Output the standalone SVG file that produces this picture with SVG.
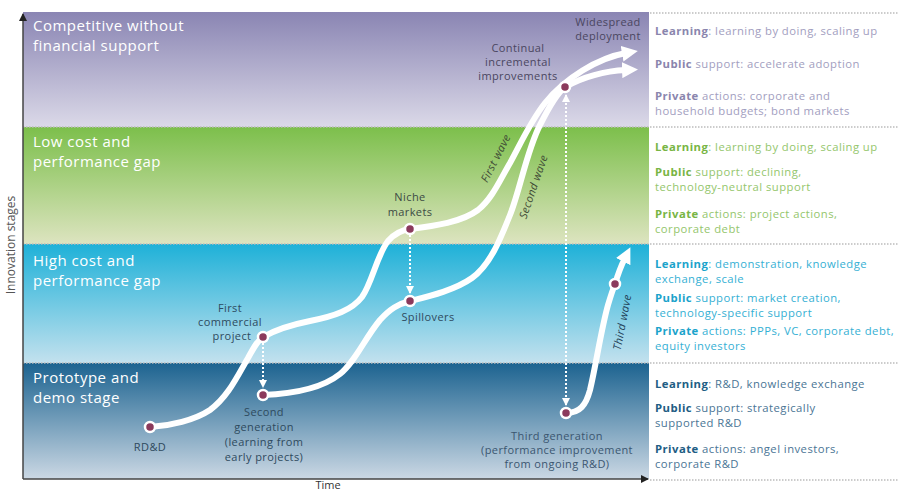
<svg xmlns="http://www.w3.org/2000/svg" width="899" height="492" viewBox="0 0 899 492">
<defs>
  <linearGradient id="gPurple" x1="0" y1="0" x2="0" y2="1">
    <stop offset="0" stop-color="#8a85b3"/>
    <stop offset="1" stop-color="#dbd9e8"/>
  </linearGradient>
  <linearGradient id="gGreen" x1="0" y1="0" x2="0" y2="1">
    <stop offset="0" stop-color="#7cbf4b"/>
    <stop offset="1" stop-color="#dde4c0"/>
  </linearGradient>
  <linearGradient id="gBlue" x1="0" y1="0" x2="0" y2="1">
    <stop offset="0" stop-color="#1eb1d8"/>
    <stop offset="1" stop-color="#c3e1ee"/>
  </linearGradient>
  <linearGradient id="gDark" x1="0" y1="0" x2="0" y2="1">
    <stop offset="0" stop-color="#1c6390"/>
    <stop offset="1" stop-color="#cbd8e4"/>
  </linearGradient>
  <marker id="bigArrow" viewBox="0 0 16 16" refX="4" refY="8" markerWidth="16" markerHeight="16" markerUnits="userSpaceOnUse" orient="auto">
    <path d="M0,0 L16,8 L0,16 z" fill="#fff"/>
  </marker>
  <marker id="smallArrow" viewBox="0 0 8 8" refX="7" refY="4" markerWidth="8" markerHeight="8" markerUnits="userSpaceOnUse" orient="auto-start-reverse">
    <path d="M0,0 L8,4 L0,8 z" fill="#fff"/>
  </marker>
  <marker id="axisArrow" viewBox="0 0 8 8" refX="7" refY="4" markerWidth="8" markerHeight="8" markerUnits="userSpaceOnUse" orient="auto">
    <path d="M0,0 L8,4 L0,8 z" fill="#222"/>
  </marker>
</defs>
<style>
  text { font-family: "Open Sans", "Noto Sans", "Liberation Sans", sans-serif; }
  .band { font-size: 15px; letter-spacing: 0.5px; fill: #ffffff; }
  .lbl { font-size: 11px; letter-spacing: 0.4px; text-anchor: middle; }
  .rp { font-size: 11.3px; letter-spacing: 0.45px; }
  .b { font-weight: bold; }
  .wave { fill: none; stroke: #ffffff; stroke-width: 6; stroke-linecap: round; stroke-linejoin: round; }
  .dot { fill: #8b3a5c; stroke: #ffffff; stroke-width: 2.5; }
  .dash { fill: none; stroke: #ffffff; stroke-width: 2; stroke-dasharray: 2 2; }
  .sep { fill: none; stroke: #bcbcbc; stroke-width: 1.5; stroke-dasharray: 1.5 1.5; }
  .axis { fill: none; stroke: #444; stroke-width: 1.5; }
  .italic { font-style: italic; }
</style>

<!-- bands -->
<g id="bands">
  <rect x="23" y="12" width="626" height="115" fill="url(#gPurple)"/>
  <rect x="23" y="127" width="626" height="117" fill="url(#gGreen)"/>
  <rect x="23" y="244" width="626" height="119" fill="url(#gBlue)"/>
  <rect x="23" y="363" width="626" height="116" fill="url(#gDark)"/>
  <line class="sep" x1="650" y1="13" x2="899" y2="13"/>
  <line class="sep" x1="23" y1="127" x2="899" y2="127"/>
  <line class="sep" x1="23" y1="244" x2="899" y2="244"/>
  <line class="sep" x1="23" y1="363" x2="899" y2="363"/>
  <line class="sep" x1="650" y1="480" x2="899" y2="480"/>
  <text class="band" x="33" y="31">Competitive without</text>
  <text class="band" x="33" y="51">financial support</text>
  <text class="band" x="33" y="147">Low cost and</text>
  <text class="band" x="33" y="167">performance gap</text>
  <text class="band" x="33" y="266">High cost and</text>
  <text class="band" x="33" y="286">performance gap</text>
  <text class="band" x="33" y="383">Prototype and</text>
  <text class="band" x="33" y="403">demo stage</text>
</g>

<!-- axes -->
<g id="axes">
  <line class="axis" x1="23" y1="479" x2="23" y2="14" marker-end="url(#axisArrow)"/>
  <line class="axis" x1="23" y1="479" x2="648" y2="479" marker-end="url(#axisArrow)"/>
  <text x="15" y="245" font-size="12" fill="#555" text-anchor="middle" transform="rotate(-90 15 245)">Innovation stages</text>
  <text x="328" y="489" font-size="11" fill="#333" text-anchor="middle">Time</text>
</g>

<!-- connectors -->
<g id="connectors">
  <path id="firstWave" class="wave" marker-end="url(#bigArrow)" d="M150,427 C170,426 195,420 210,410 C228,397 238,375 248,358 C254,347 258,340 263,337 C275,330 290,325 310,321 C335,316 352,310 362,297 C372,283 377,255 388,241 C395,233 402,230 410,229 C435,226 462,222 478,210 C492,199 500,180 510,163 C520,145 530,122 545,103 C565,78 598,58 626,53"/>
  <path id="secondWave" class="wave" marker-end="url(#bigArrow)" d="M263,395 C290,394 320,390 340,374 C355,362 365,338 380,320 C390,309 398,304 410,301 C430,296 455,290 472,278 C490,265 500,240 510,215 C520,190 527,150 540,125 C550,105 557,93 565,87 C585,76 605,71 626,70"/>
  <path id="thirdWave" class="wave" marker-end="url(#bigArrow)" d="M566,413 C580,413 586,405 590,390 C596,365 601,330 608,305 C611,295 613,289 615,284 C618,274 621,266 625,258"/>
  <line class="dash" x1="263" y1="343" x2="263" y2="387" marker-end="url(#smallArrow)"/>
  <line class="dash" x1="410" y1="235" x2="410" y2="293" marker-end="url(#smallArrow)"/>
  <line class="dash" x1="566" y1="95" x2="566" y2="405" marker-start="url(#smallArrow)" marker-end="url(#smallArrow)"/>
  <text class="lbl italic" fill="#3e4a35" transform="translate(499,160) rotate(-63)" x="0" y="0">First wave</text>
  <text class="lbl italic" fill="#3e4a35" transform="translate(537,188) rotate(-71)" x="0" y="0">Second wave</text>
  <text class="lbl italic" fill="#1f3f57" transform="translate(626,323) rotate(-79)" x="0" y="0">Third wave</text>
</g>

<!-- nodes -->
<g id="node-rdd">
  <circle class="dot" cx="150" cy="427" r="5"/>
  <text class="lbl" x="150" y="451" fill="#2e4a5e">RD&amp;D</text>
</g>
<g id="node-first-commercial">
  <circle class="dot" cx="263" cy="337" r="5"/>
  <text class="lbl" x="230" y="312" fill="#2e4a5e">First</text>
  <text class="lbl" x="230" y="326" fill="#2e4a5e">commercial</text>
  <text class="lbl" x="232" y="340" fill="#2e4a5e">project</text>
</g>
<g id="node-second-generation">
  <circle class="dot" cx="263" cy="395" r="5"/>
  <text class="lbl" x="264" y="416" fill="#2e4a5e">Second</text>
  <text class="lbl" x="264" y="431" fill="#2e4a5e">generation</text>
  <text class="lbl" x="264" y="446" fill="#2e4a5e">(learning from</text>
  <text class="lbl" x="264" y="461" fill="#2e4a5e">early projects)</text>
</g>
<g id="node-niche">
  <circle class="dot" cx="410" cy="229" r="5"/>
  <text class="lbl" x="410" y="201" fill="#3c4a44">Niche</text>
  <text class="lbl" x="410" y="216" fill="#3c4a44">markets</text>
</g>
<g id="node-spillovers">
  <circle class="dot" cx="410" cy="301" r="5"/>
  <text class="lbl" x="428" y="321" fill="#2e4a5e">Spillovers</text>
</g>
<g id="node-continual">
  <circle class="dot" cx="565" cy="87" r="5"/>
  <text class="lbl" x="518" y="52" fill="#4a4660">Continual</text>
  <text class="lbl" x="518" y="66" fill="#4a4660">incremental</text>
  <text class="lbl" x="518" y="80" fill="#4a4660">improvements</text>
</g>
<g id="node-widespread">
  <text class="lbl" x="608" y="26" fill="#4a4660">Widespread</text>
  <text class="lbl" x="608" y="40" fill="#4a4660">deployment</text>
</g>
<g id="node-third-generation">
  <circle class="dot" cx="566" cy="413" r="5"/>
  <text class="lbl" x="557" y="440" fill="#3b5670">Third generation</text>
  <text class="lbl" x="557" y="454" fill="#3b5670">(performance improvement</text>
  <text class="lbl" x="557" y="468" fill="#3b5670">from ongoing R&amp;D)</text>
</g>
<g id="node-third-wave-dot">
  <circle class="dot" cx="615" cy="284" r="5"/>
</g>

<!-- right panel -->
<g id="panel-competitive">
  <text class="rp" x="655" y="35" fill="#a29ec0"><tspan class="b" fill="#8a85ad">Learning</tspan>: learning by doing, scaling up</text>
  <text class="rp" x="655" y="68" fill="#a29ec0"><tspan class="b" fill="#8a85ad">Public</tspan> support: accelerate adoption</text>
  <text class="rp" x="655" y="100" fill="#a29ec0"><tspan class="b" fill="#8a85ad">Private</tspan> actions: corporate and</text>
  <text class="rp" x="655" y="115" fill="#a29ec0">household budgets; bond markets</text>
</g>
<g id="panel-low">
  <text class="rp" x="655" y="151" fill="#94c66c"><tspan class="b" fill="#78b544">Learning</tspan>: learning by doing, scaling up</text>
  <text class="rp" x="655" y="176" fill="#94c66c"><tspan class="b" fill="#78b544">Public</tspan> support: declining,</text>
  <text class="rp" x="655" y="191" fill="#94c66c">technology-neutral support</text>
  <text class="rp" x="655" y="218" fill="#94c66c"><tspan class="b" fill="#78b544">Private</tspan> actions: project actions,</text>
  <text class="rp" x="655" y="233" fill="#94c66c">corporate debt</text>
</g>
<g id="panel-high">
  <text class="rp" x="655" y="268" fill="#35b0d4"><tspan class="b" fill="#1ba3cb">Learning</tspan>: demonstration, knowledge</text>
  <text class="rp" x="655" y="283" fill="#35b0d4">exchange, scale</text>
  <text class="rp" x="655" y="302" fill="#35b0d4"><tspan class="b" fill="#1ba3cb">Public</tspan> support: market creation,</text>
  <text class="rp" x="655" y="317" fill="#35b0d4">technology-specific support</text>
  <text class="rp" x="655" y="335" fill="#35b0d4"><tspan class="b" fill="#1ba3cb">Private</tspan> actions: PPPs, VC, corporate debt,</text>
  <text class="rp" x="655" y="350" fill="#35b0d4">equity investors</text>
</g>
<g id="panel-prototype">
  <text class="rp" x="655" y="388" fill="#4a7595"><tspan class="b" fill="#215d84">Learning</tspan>: R&amp;D, knowledge exchange</text>
  <text class="rp" x="655" y="412" fill="#4a7595"><tspan class="b" fill="#215d84">Public</tspan> support: strategically</text>
  <text class="rp" x="655" y="427" fill="#4a7595">supported R&amp;D</text>
  <text class="rp" x="655" y="453" fill="#4a7595"><tspan class="b" fill="#215d84">Private</tspan> actions: angel investors,</text>
  <text class="rp" x="655" y="468" fill="#4a7595">corporate R&amp;D</text>
</g>
</svg>
